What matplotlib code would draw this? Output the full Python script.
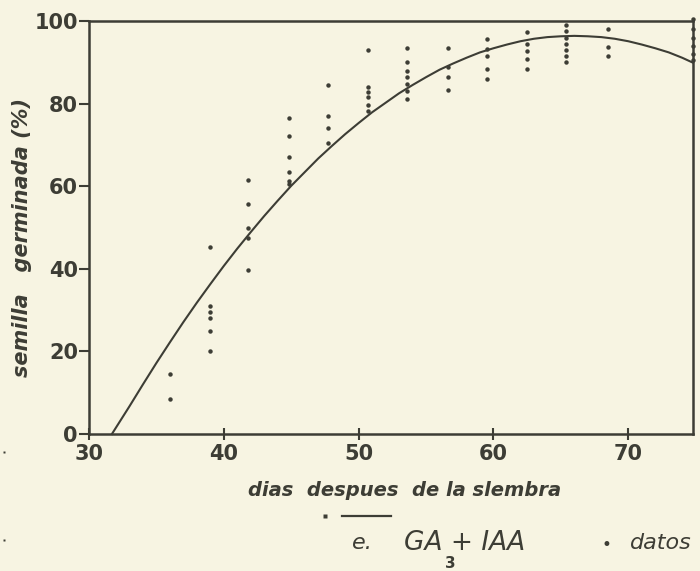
import numpy as np
import matplotlib
matplotlib.use("Agg")
import matplotlib.pyplot as plt
from matplotlib.lines import Line2D

# columnas de datos (dias) y % germinado
dias = [36.0, 39.0, 41.8, 44.8, 47.7, 50.7, 53.6, 56.6, 59.5, 62.5, 65.4, 68.5, 74.8]
germ = [
    [14.5, 8.5],
    [45.2, 31.0, 29.5, 28.0, 25.0, 20.0],
    [61.5, 55.7, 49.9, 47.4, 39.7],
    [76.5, 72.2, 67.0, 63.4, 61.3, 60.5],
    [84.5, 77.0, 74.0, 70.5],
    [93.0, 84.0, 82.8, 81.6, 79.7, 78.2],
    [93.4, 90.0, 88.0, 86.4, 84.7, 83.0, 81.0],
    [93.4, 88.8, 86.4, 83.3],
    [95.6, 93.2, 91.5, 88.4, 86.0],
    [97.3, 94.4, 92.7, 90.8, 88.4],
    [99.0, 97.5, 96.0, 94.5, 93.0, 91.5, 90.0],
    [98.0, 93.7, 91.5],
    [100.5, 98.0, 96.0, 94.0, 92.0, 90.5],
]

# curva ajustada
curva_x = [31.7, 33, 34, 35, 36, 37, 38, 39, 40, 41, 42, 43, 44, 45, 46, 47, 48, 49, 50,
           51, 52, 53, 54, 55, 56, 57, 58, 59, 60, 61, 62, 63, 64, 65, 66, 67, 68, 69,
           70, 71, 72, 73, 74, 74.8]
curva_y = [0.0, 6.7, 12.0, 17.2, 22.2, 27.1, 31.8, 36.3, 40.7, 44.9, 48.9, 52.8, 56.5, 60.1,
           63.4, 66.7, 69.7, 72.6, 75.3, 77.9, 80.2, 82.5, 84.5, 86.4, 88.2, 89.7, 91.1, 92.4,
           93.4, 94.3, 95.1, 95.7, 96.1, 96.3, 96.4, 96.3, 96.1, 95.7, 95.1, 94.3, 93.4, 92.4,
           91.1, 89.9]

xticks = [30, 40, 50, 60, 70]
yticks = [0, 20, 40, 60, 80, 100]

fondo = "#f7f4e2"
tinta = "#3d3d35"

fig = plt.figure(figsize=(7, 5.71), dpi=100, facecolor=fondo)
ax = fig.add_axes([89/700, 1-434/571, (693-89)/700, (434-21)/571])
ax.set_facecolor(fondo)

px = [d for d, ys in zip(dias, germ) for _ in ys]
py = [y for ys in germ for y in ys]
ax.plot(px, py, "o", ms=3.2, color=tinta, mec="none", clip_on=False, zorder=3)
ax.plot(curva_x, curva_y, "-", lw=1.5, color=tinta, clip_on=False)

ax.set_xlim(30, 74.8)
ax.set_ylim(0, 100)
ax.set_xticks(xticks)
ax.set_yticks(yticks)
ax.set_xticklabels([str(t) for t in xticks], fontsize=15, fontweight="bold", color=tinta)
ax.set_yticklabels([str(t) for t in yticks], fontsize=15, fontweight="bold", color=tinta)
ax.tick_params(axis="x", direction="inout", length=9, width=1.5, color=tinta, pad=3)
ax.tick_params(axis="y", direction="out", length=7, width=1.5, color=tinta, pad=1)
for s in ax.spines.values():
    s.set_linewidth(1.8)
    s.set_color(tinta)

fig.text(405/700, 1-490/571, "dias  despues  de la slembra", ha="center", va="center",
         fontsize=14, fontstyle="italic", fontweight="bold", color=tinta)
fig.text(22/700, 1-237/571, "semilla   germinada (%)", ha="center", va="center", rotation=90,
         fontsize=15, fontstyle="italic", fontweight="bold", color=tinta)

# motas del escaneo a la izquierda
fig.add_artist(Line2D([4/700, 4/700], [1-452/571, 1-540/571], ls="none", marker="s", ms=2, color=tinta, mec="none"))

# leyenda de abajo
fig.add_artist(Line2D([325/700], [1-516/571], marker="s", ms=2.5, color=tinta, mec="none"))
fig.add_artist(Line2D([342/700, 391/700], [1-516/571, 1-516/571], lw=1.6, color=tinta))
fig.text(352/700, 1-543/571, "e.", ha="left", va="center", fontsize=16, fontstyle="italic", color=tinta)
fig.text(404/700, 1-543/571, "GA + IAA", ha="left", va="center", fontsize=19, fontstyle="italic", color=tinta)
fig.text(450/700, 1-563/571, "3", ha="center", va="center", fontsize=11, fontweight="bold", color=tinta)
fig.text(606/700, 1-545/571, "•", ha="center", va="center", fontsize=12, color=tinta)
fig.text(630/700, 1-543/571, "datos", ha="left", va="center", fontsize=16, fontstyle="italic", color=tinta)

fig.savefig("out.png", dpi=100, facecolor=fondo)
